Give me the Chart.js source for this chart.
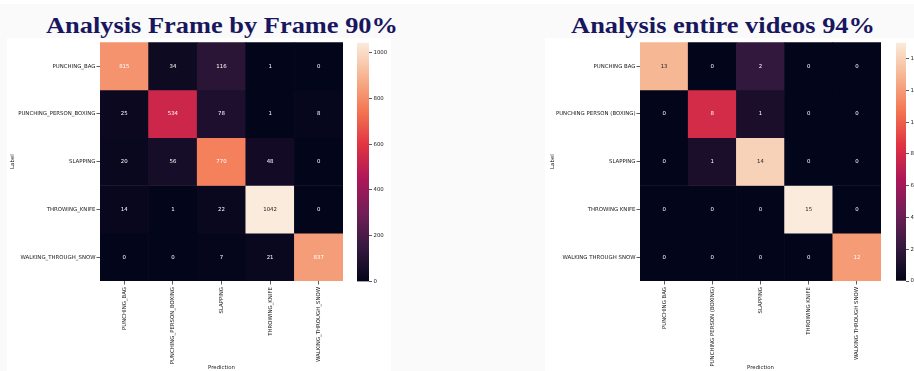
<!DOCTYPE html>
<html>
<head>
<meta charset="utf-8">
<script src="https://cdn.jsdelivr.net/npm/chart.js@4.4.1/dist/chart.umd.min.js"></script>
<style>
  html, body { margin: 0; padding: 0; }
  body { width: 914px; height: 371px; background: #fafafa; position: relative; overflow: hidden; }
  .strip { position: absolute; left: 0; top: 0; width: 914px; height: 4px; background: #ffffff; }
  .panel { position: absolute; background: #ffffff; }
  .title { position: absolute; top: 13px; font: bold 24px "Liberation Serif"; line-height: 24px;
           color: #18165f; white-space: nowrap; transform: translateX(-50%) scaleX(1.1); }
  canvas { position: absolute; }
</style>
</head>
<body>
<div class="strip"></div>
<div class="panel" style="left:7px;top:38px;width:384px;height:333px;"></div>
<div class="panel" style="left:545px;top:38px;width:369px;height:333px;"></div>
<div class="title" style="left:222px;">Analysis Frame by Frame 90%</div>
<div class="title" style="left:723px;">Analysis entire videos 94%</div>

<canvas id="frameMatrix" width="338" height="333" style="left:7px;top:38px;"></canvas>
<canvas id="frameScale" width="40" height="250" style="left:357px;top:38px;"></canvas>
<canvas id="videoMatrix" width="338" height="333" style="left:545px;top:38px;"></canvas>
<canvas id="videoScale" width="30" height="250" style="left:896px;top:38px;"></canvas>

<script>
// Frame-level confusion matrix (rows: true label, columns: prediction)
const frameClasses = ['PUNCHING_BAG', 'PUNCHING_PERSON_BOXING', 'SLAPPING', 'THROWING_KNIFE', 'WALKING_THROUGH_SNOW'];
const frameCounts = [
  [815, 34, 116, 1, 0],
  [25, 534, 78, 1, 8],
  [20, 56, 770, 48, 0],
  [14, 1, 22, 1042, 0],
  [0, 0, 7, 21, 837]
];
const frameScaleTicks = [0, 200, 400, 600, 800, 1000];
const frameMax = 1042;

// Whole-video confusion matrix
const videoClasses = ['PUNCHING BAG', 'PUNCHING PERSON (BOXING)', 'SLAPPING', 'THROWING KNIFE', 'WALKING THROUGH SNOW'];
const videoCounts = [
  [13, 0, 2, 0, 0],
  [0, 8, 1, 0, 0],
  [0, 1, 14, 0, 0],
  [0, 0, 0, 15, 0],
  [0, 0, 0, 0, 12]
];
const videoScaleTicks = [0, 2, 4, 6, 8, 10, 12, 14];
const videoMax = 15;

// "rocket" style sequential colormap, sampled key colours
const ROCKET = [[3,5,26],[53,25,62],[112,31,87],[173,23,89],[225,51,66],[243,118,81],[246,180,143],[250,235,221]];
function rocket(t) {
  t = Math.max(0, Math.min(1, t));
  const s = t * (ROCKET.length - 1);
  const i = Math.min(Math.floor(s), ROCKET.length - 2);
  const f = s - i;
  return ROCKET[i].map((v, k) => Math.round(v + (ROCKET[i + 1][k] - v) * f));
}
const rgb = c => `rgb(${c[0]},${c[1]},${c[2]})`;
function luminance(c) {
  const l = c.map(v => { v /= 255; return v <= 0.03928 ? v / 12.92 : Math.pow((v + 0.055) / 1.055, 2.4); });
  return 0.2126 * l[0] + 0.7152 * l[1] + 0.0722 * l[2];
}

const SMALL = { family: '"DejaVu Sans"', size: 5.4 };
const INK = '#222222';

// writes each count in the middle of its cell
const cellText = {
  id: 'cellText',
  afterDatasetsDraw(chart) {
    const ctx = chart.ctx;
    ctx.save();
    ctx.font = `${SMALL.size}px ${SMALL.family}`;
    ctx.textAlign = 'center';
    ctx.textBaseline = 'middle';
    chart.data.datasets.forEach((ds, di) => {
      chart.getDatasetMeta(di).data.forEach((bar, ci) => {
        const p = bar.getCenterPoint();
        ctx.fillStyle = ds.textColors[ci];
        ctx.fillText(String(ds.counts[ci]), p.x, p.y);
      });
    });
    ctx.restore();
  }
};

function heatmap(id, classes, counts, vmax, axisWidth, labelPad) {
  const datasets = counts.map((row, r) => {
    const cols = row.map(v => rocket(v / vmax));
    return {
      label: classes[r],
      data: row.map(() => [r, r + 1]),
      counts: row,
      backgroundColor: cols.map(rgb),
      textColors: cols.map(c => luminance(c) > 0.5 ? INK : '#ffffff'),
      borderWidth: 0,
      barPercentage: 1,
      categoryPercentage: 1,
      grouped: false
    };
  });
  return new Chart(document.getElementById(id), {
    type: 'bar',
    data: { labels: classes, datasets },
    plugins: [cellText],
    options: {
      responsive: false,
      animation: false,
      events: [],
      layout: { padding: { top: 3, right: 2, left: 0, bottom: 0 } },
      plugins: { legend: { display: false }, tooltip: { enabled: false } },
      scales: {
        x: {
          type: 'category',
          offset: true,
          afterFit: s => { s.height = 90; },
          border: { display: false },
          grid: { offset: false, drawOnChartArea: false, drawTicks: true, tickLength: 3.5, tickWidth: 0.8, tickColor: '#333' },
          ticks: { minRotation: 90, maxRotation: 90, autoSkip: false, padding: 2.5, color: INK, font: SMALL },
          title: { display: true, text: 'Prediction', color: INK, font: SMALL, padding: { top: 0, bottom: 0 } }
        },
        y: {
          type: 'linear',
          min: 0,
          max: classes.length,
          reverse: true,
          afterBuildTicks: s => { s.ticks = classes.map((_, i) => ({ value: i + 0.5 })); },
          afterFit: s => { s.width = axisWidth; },
          border: { display: false },
          grid: { drawOnChartArea: false, drawTicks: true, tickLength: 3.5, tickWidth: 0.8, tickColor: '#333' },
          ticks: { padding: 1, color: INK, font: SMALL, callback: (v, i) => classes[i] },
          title: { display: true, text: 'Label', color: INK, font: SMALL, padding: { top: labelPad, bottom: 0 } }
        }
      }
    }
  });
}

function colorScale(id, vmax, ticks, axisWidth, padBottom) {
  return new Chart(document.getElementById(id), {
    type: 'bar',
    data: {
      labels: [''],
      datasets: [{
        data: [[0, vmax]],
        borderWidth: 0,
        barPercentage: 1,
        categoryPercentage: 1,
        backgroundColor: ctx => {
          const { chart } = ctx;
          if (!chart.chartArea) return null;
          const y = chart.scales.y;
          const g = chart.ctx.createLinearGradient(0, y.getPixelForValue(0), 0, y.getPixelForValue(vmax));
          ROCKET.forEach((c, i) => g.addColorStop(i / (ROCKET.length - 1), rgb(c)));
          return g;
        }
      }]
    },
    options: {
      responsive: false,
      animation: false,
      events: [],
      layout: { padding: { top: 3, bottom: padBottom, left: 0, right: 0 } },
      plugins: { legend: { display: false }, tooltip: { enabled: false } },
      scales: {
        x: { display: false },
        y: {
          position: 'right',
          min: 0,
          max: vmax,
          afterBuildTicks: s => { s.ticks = ticks.map(v => ({ value: v })); },
          afterFit: s => { s.width = axisWidth; },
          border: { display: false },
          grid: { drawOnChartArea: false, drawTicks: true, tickLength: 3, tickWidth: 0.8, tickColor: '#333' },
          ticks: { padding: 1.5, color: INK, font: SMALL, callback: v => String(v) }
        }
      }
    }
  });
}

heatmap('frameMatrix', frameClasses, frameCounts, frameMax, 93, 2.4);
heatmap('videoMatrix', videoClasses, videoCounts, videoMax, 95, 4);
colorScale('frameScale', frameMax, frameScaleTicks, 28, 6.3);
colorScale('videoScale', videoMax, videoScaleTicks, 20, 7);
</script>
</body>
</html>
